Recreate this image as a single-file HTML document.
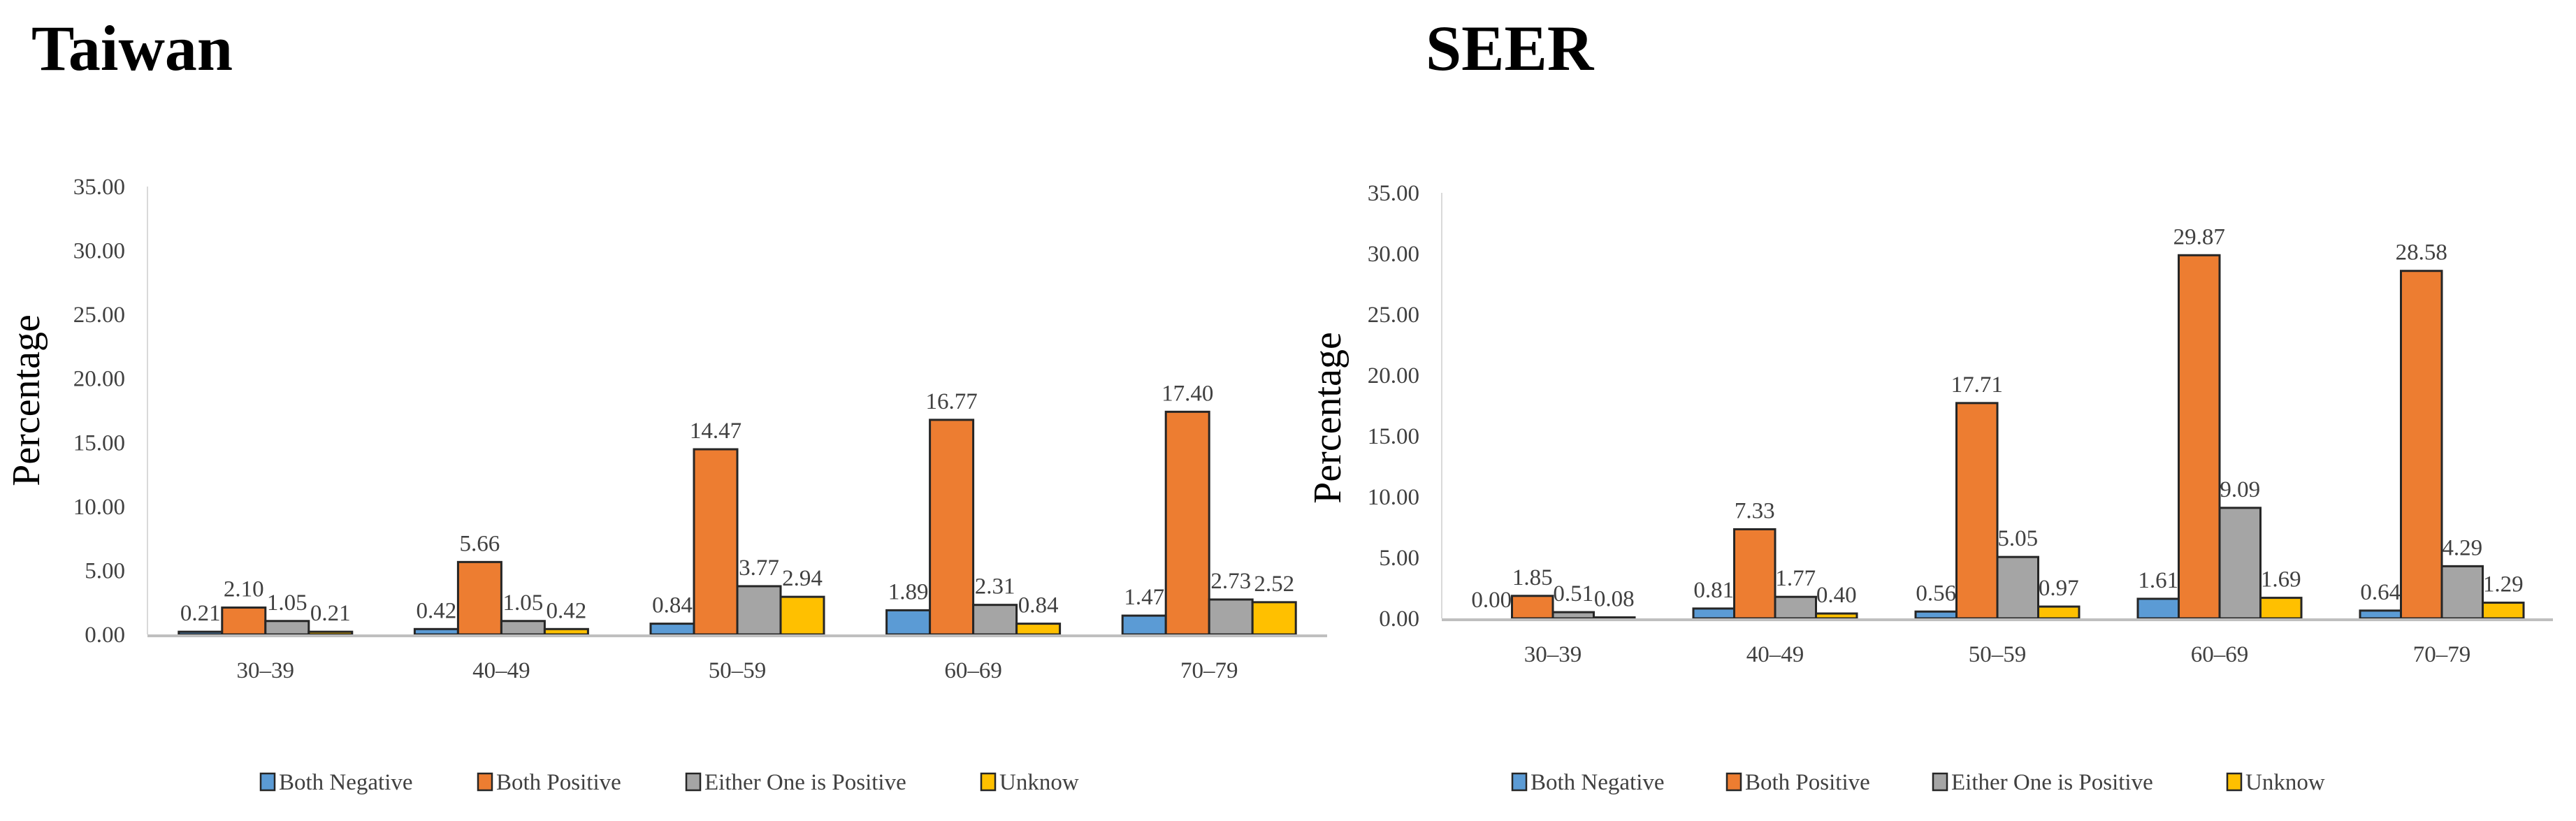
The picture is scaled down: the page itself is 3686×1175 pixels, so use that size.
<!DOCTYPE html>
<html><head><meta charset="utf-8"><style>
html,body{margin:0;padding:0;background:#fff;}
svg{display:block;font-family:"Liberation Serif",serif;}
</style></head><body>
<svg id="chart" width="3686" height="1175" xmlns="http://www.w3.org/2000/svg">
<text x="45" y="100" font-size="92" font-weight="bold" fill="#000">Taiwan</text>
<text x="2040" y="100" font-size="92" font-weight="bold" fill="#000">SEER</text>
</svg>
<script>
const categories = ["30–39","40–49","50–59","60–69","70–79"];
const seriesNames = ["Both Negative","Both Positive","Either One is Positive","Unknow"];
const taiwanNeg = [0.21,0.42,0.84,1.89,1.47];
const taiwanPos = [2.10,5.66,14.47,16.77,17.40];
const taiwanEither = [1.05,1.05,3.77,2.31,2.73];
const taiwanUnk = [0.21,0.42,2.94,0.84,2.52];
const seerNeg = [0.00,0.81,0.56,1.61,0.64];
const seerPos = [1.85,7.33,17.71,29.87,28.58];
const seerEither = [0.51,1.77,5.05,9.09,4.29];
const seerUnk = [0.08,0.40,0.97,1.69,1.29];
const yTicks = [0,5,10,15,20,25,30,35];
const yMax = 35;
const colors = ["#5B9BD5","#ED7D31","#A5A5A5","#FFC000"];
const NS = "http://www.w3.org/2000/svg";
const svg = document.getElementById('chart');
function mk(tag, attrs, parent){const e=document.createElementNS(NS,tag);for(const k in attrs)e.setAttribute(k,attrs[k]);(parent||svg).appendChild(e);return e;}

function drawChart(prefix, series, p){
  const g = mk('g',{});
  
  
  const yS = v => p.y0 - (v/yMax)*(p.y0-p.y35);
  const catW = (p.x1-p.x0)/categories.length;
  const xC = i => p.x0 + catW*(i+0.5);
  const bw = p.bw;
  yTicks.forEach(t=>{
    const tx = mk('text',{x:p.x0-32,y:yS(t)+11,'font-size':33,'text-anchor':'end',fill:'#404040'},g);
    tx.textContent = t.toFixed(2);
    
    
  });
  const ya = mk('line',{x1:p.x0,y1:p.y35,x2:p.x0,y2:p.y0,stroke:'#d9d9d9','stroke-width':2},g);
  
  
  const yt = mk('text',{x:0,y:0,'font-size':56,'text-anchor':'middle',fill:'#000',transform:`translate(${p.ytx},${p.yty}) rotate(-90)`},g);
  yt.textContent='Percentage';
  
  
  categories.forEach((c,i)=>{
    series.forEach((arr,s)=>{
      const v = arr[i];
      const x = xC(i) - 2*bw + s*bw;
      const top = yS(v);
      const r = mk('rect',{x:x,y:top,width:bw,height:Math.max(p.y0-top,0),fill:colors[s],stroke:'#262626','stroke-width':3},g);
      
      
      const l = mk('text',{x:x+bw/2,y:top-16,'font-size':33,'text-anchor':'middle',fill:'#404040'},g);
      l.textContent = v.toFixed(2);
      
      
    });
    const cl = mk('text',{x:xC(i),y:p.y0+62,'font-size':33,'text-anchor':'middle',fill:'#404040'},g);
    cl.textContent = c;
    
    
  });
  const xa = mk('line',{x1:p.x0,y1:p.y0+2,x2:p.x1,y2:p.y0+2,stroke:'#bfbfbf','stroke-width':4},g);
  
  
  seriesNames.forEach((n,s)=>{
    const lx = p.leg[s];
    const sq = mk('rect',{x:lx,y:p.legY-20,width:20,height:24,fill:colors[s],stroke:'#262626','stroke-width':2.5},g);
    
    
    const lt = mk('text',{x:lx+26,y:p.legY+3,'font-size':33,fill:'#404040'},g);
    lt.textContent = n;
    
    
  });
}
drawChart('taiwan',[taiwanNeg,taiwanPos,taiwanEither,taiwanUnk],
  {x0:211,x1:1899,y0:908,y35:267,bw:62,ytx:56,yty:573,legY:1127,leg:[373,684,982,1404]});
drawChart('seer',[seerNeg,seerPos,seerEither,seerUnk],
  {x0:2063,x1:3653,y0:885,y35:276,bw:58.5,ytx:1918,yty:598,legY:1127,leg:[2164,2471,2766,3187]});
</script>
</body></html>
